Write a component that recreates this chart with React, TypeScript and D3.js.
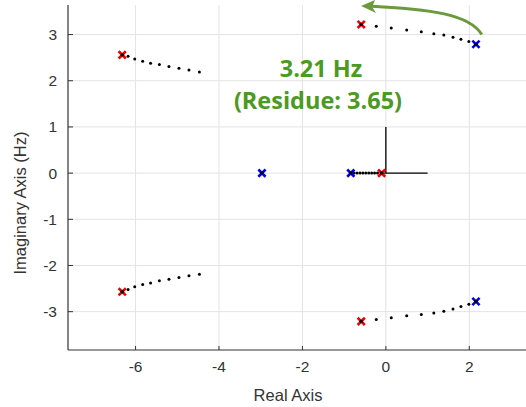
import React from "react";
import * as d3 from "d3";

const xTicks = [-6, -4, -2, 0, 2];
const yTicks = [-3, -2, -1, 0, 1, 2, 3];

// poles (red x) and zeros/end points (blue x)
const redX: [number, number][] = [
  [-6.32, 2.56],
  [-6.32, -2.57],
  [-0.59, 3.22],
  [-0.59, -3.21],
  [-0.1, 0],
];
const blueX: [number, number][] = [
  [2.16, 2.79],
  [2.16, -2.78],
  [-2.97, 0],
  [-0.84, 0],
];

// root-locus dotted traces
const locusUL: [number, number][] = [
  [-6.32, 2.56], [-6.18, 2.53], [-6.02, 2.47], [-5.83, 2.42], [-5.64, 2.38],
  [-5.43, 2.35], [-5.2, 2.31], [-4.96, 2.27], [-4.72, 2.23], [-4.47, 2.19],
];
const locusLL: [number, number][] = [
  [-6.32, -2.57], [-6.18, -2.52], [-6.02, -2.46], [-5.83, -2.41], [-5.64, -2.38],
  [-5.43, -2.33], [-5.2, -2.3], [-4.96, -2.26], [-4.72, -2.22], [-4.47, -2.19],
];
const locusUR: [number, number][] = [
  [-0.59, 3.22], [-0.23, 3.18], [0.13, 3.14], [0.5, 3.1], [0.85, 3.06],
  [1.15, 3.02], [1.39, 2.99], [1.61, 2.94], [1.8, 2.9], [1.99, 2.85], [2.16, 2.79],
];
const locusLR: [number, number][] = [
  [-0.59, -3.21], [-0.23, -3.17], [0.13, -3.13], [0.5, -3.09], [0.85, -3.06],
  [1.15, -3.03], [1.39, -2.99], [1.61, -2.94], [1.8, -2.89], [1.99, -2.84], [2.16, -2.78],
];
const locusReal: [number, number][] = [
  [-0.84, 0], [-0.76, 0], [-0.69, 0], [-0.62, 0], [-0.55, 0], [-0.48, 0],
  [-0.41, 0], [-0.34, 0], [-0.27, 0], [-0.2, 0], [-0.1, 0],
];

const annotLine1 = "3.21 Hz";
const annotLine2 = "(Residue: 3.65)";

const W = 526;
const H = 407;
const L = 68;
const R = 526;
const T = 5;
const B = 350;

const x = d3.scaleLinear().domain([-7.62, 3.36]).range([L, R]);
const y = d3.scaleLinear().domain([-3.83, 3.64]).range([B, T]);

const GREEN = "#4b9a22";
const ARROW = "#6b9a3c";

function XMark({ cx, cy, color }: { cx: number; cy: number; color: string }) {
  const s = 3.6;
  return (
    <g>
      <path
        d={`M${cx - s},${cy - s}L${cx + s},${cy + s}M${cx - s},${cy + s}L${cx + s},${cy - s}`}
        stroke={color}
        strokeWidth={2.6}
        fill="none"
      />
      <circle cx={cx} cy={cy} r={1.7} fill="#000" />
    </g>
  );
}

export default function App() {
  const loci = [locusUL, locusLL, locusUR, locusLR, locusReal];
  const arrowStart: [number, number] = [2.3, 3.0];
  const arrowEnd: [number, number] = [-0.45, 3.62];
  const sx = x(arrowStart[0]);
  const sy = y(arrowStart[1]);
  const ex = x(arrowEnd[0]);
  const ey = y(arrowEnd[1]);
  const arrowPath = `M${sx},${sy} C${sx - 12},${sy - 20} ${sx - 50},${ey + 3} ${ex},${ey}`;

  return (
    <svg
      width={W}
      height={H}
      style={{ position: "absolute", left: 0, top: 0, fontFamily: "'Liberation Sans', Arial, sans-serif" }}
    >
      <rect width={W} height={H} fill="#fff" />
      {/* grid */}
      {xTicks.map((t) => (
        <line key={"gx" + t} x1={x(t)} x2={x(t)} y1={T} y2={B} stroke="#e3e3e3" strokeWidth={1} />
      ))}
      {yTicks.map((t) => (
        <line key={"gy" + t} x1={L} x2={R} y1={y(t)} y2={y(t)} stroke="#e3e3e3" strokeWidth={1} />
      ))}
      {/* axes */}
      <line x1={L} x2={L} y1={T} y2={B} stroke="#333" strokeWidth={1.2} />
      <line x1={L} x2={R} y1={B} y2={B} stroke="#333" strokeWidth={1.2} />
      {yTicks.map((t) => (
        <g key={"ty" + t}>
          <line x1={L} x2={L + 5} y1={y(t)} y2={y(t)} stroke="#333" strokeWidth={1} />
          <text x={L - 11} y={y(t) + 5.5} textAnchor="end" fontSize={15.5} fill="#333">
            {t}
          </text>
        </g>
      ))}
      {xTicks.map((t) => (
        <g key={"tx" + t}>
          <line x1={x(t)} x2={x(t)} y1={B} y2={B - 4} stroke="#333" strokeWidth={1} />
          <text x={x(t)} y={B + 22} textAnchor="middle" fontSize={15.5} fill="#333">
            {t}
          </text>
        </g>
      ))}
      <text x={288} y={401} textAnchor="middle" fontSize={16.5} fill="#333">
        Real Axis
      </text>
      <text
        transform={`translate(26,203) rotate(-90)`}
        textAnchor="middle"
        fontSize={16.5}
        fill="#333"
      >
        Imaginary Axis (Hz)
      </text>

      {/* reference cross */}
      <line x1={x(0)} x2={x(0)} y1={y(0)} y2={y(1)} stroke="#000" strokeWidth={1.3} />
      <line x1={x(-0.1)} x2={x(1)} y1={y(0)} y2={y(0)} stroke="#000" strokeWidth={1.3} />

      {/* loci dots */}
      {loci.map((arr, i) =>
        arr.map((p, j) => (
          <circle key={`d${i}-${j}`} cx={x(p[0])} cy={y(p[1])} r={1.5} fill="#000" />
        ))
      )}

      {redX.map((p, i) => (
        <XMark key={"r" + i} cx={x(p[0])} cy={y(p[1])} color="#ee0000" />
      ))}
      {blueX.map((p, i) => (
        <XMark key={"b" + i} cx={x(p[0])} cy={y(p[1])} color="#0000ee" />
      ))}

      {/* annotation */}
      <text x={321} y={77} textAnchor="middle" fontSize={23.5} fontWeight="bold" fill={GREEN} fontFamily="'Open Sans', Lato, sans-serif">
        {annotLine1}
      </text>
      <text x={318} y={109} textAnchor="middle" fontSize={23.5} fontWeight="bold" fill={GREEN} fontFamily="'Open Sans', Lato, sans-serif">
        {annotLine2}
      </text>
      <path d={arrowPath} stroke={ARROW} strokeWidth={3} fill="none" />
      <path
        d={`M${ex - 6},${ey} L${ex + 8},${ey - 6} L${ex + 5},${ey + 1} L${ex + 9},${ey + 7} Z`}
        fill={ARROW}
      />
    </svg>
  );
}
